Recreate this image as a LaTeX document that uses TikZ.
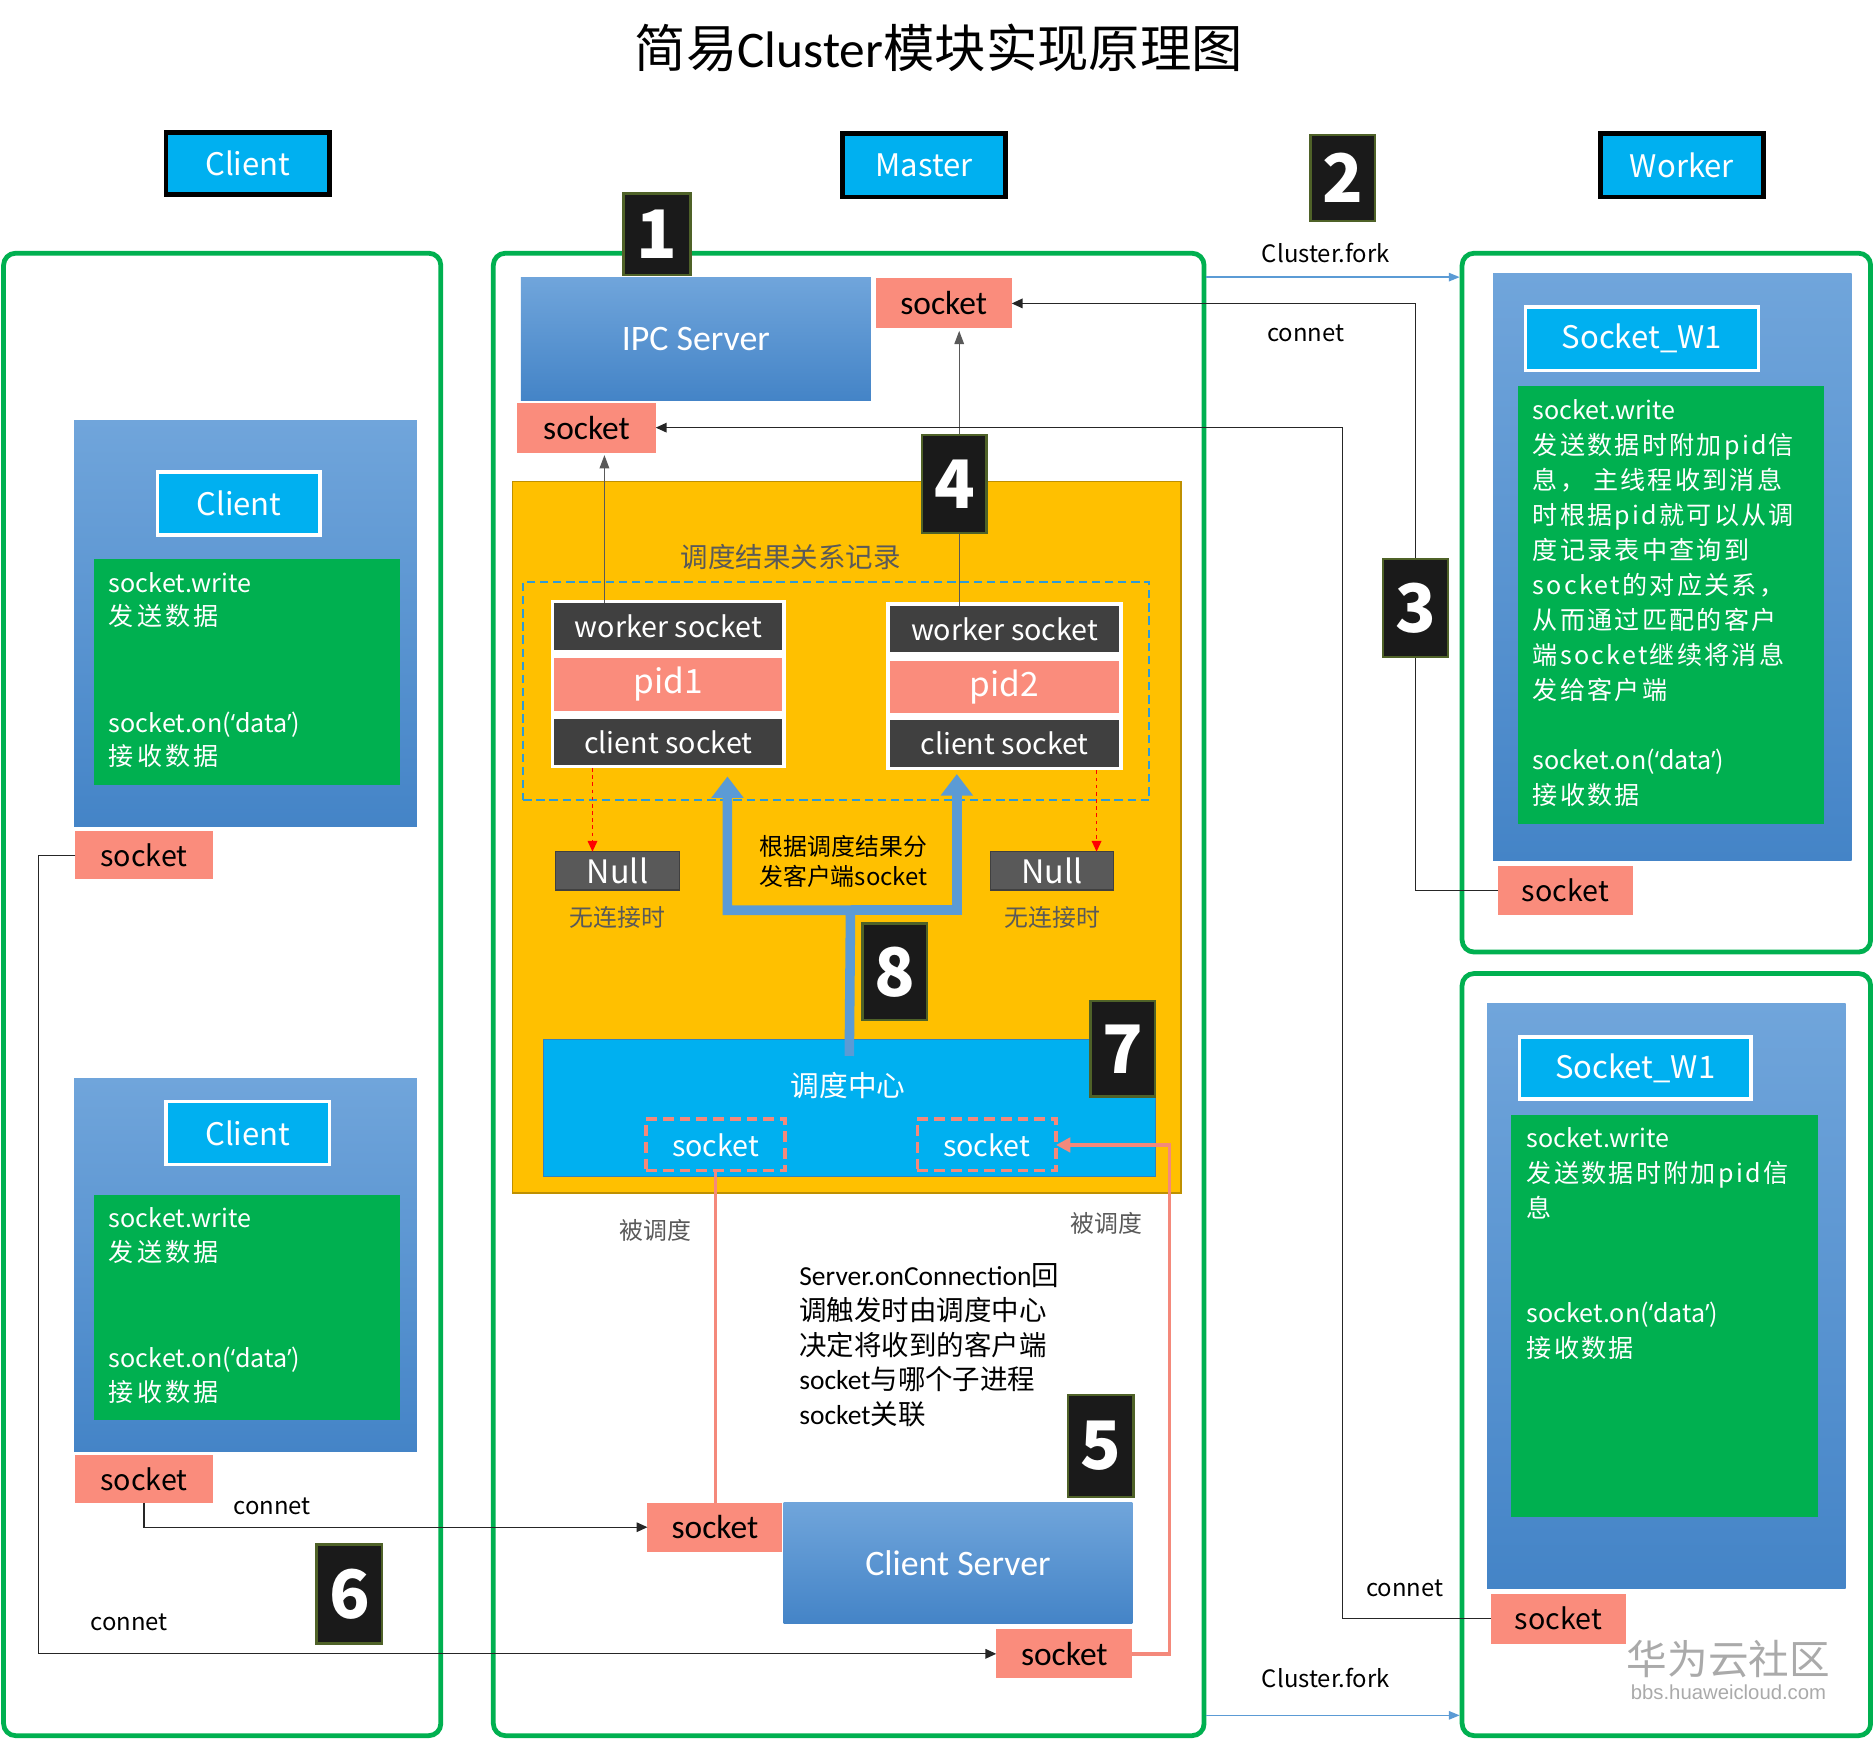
\documentclass[tikz,border=0pt]{standalone}
\usepackage{fontspec}
\setmainfont{Noto Sans CJK SC}
\newfontfamily\latf{Open Sans}
\newfontfamily\carl{Carlito}
\newfontfamily\wmf{Liberation Sans}
\usetikzlibrary{arrows.meta}
\definecolor{salmon}{RGB}{250,140,124}
\definecolor{cyanb}{RGB}{0,176,240}
\definecolor{gbox}{RGB}{0,176,80}
\definecolor{gframe}{RGB}{0,176,80}
\definecolor{btop}{RGB}{112,165,219}
\definecolor{bbot}{RGB}{68,132,199}
\definecolor{badgeb}{RGB}{79,98,40}
\definecolor{badgef}{RGB}{26,26,26}
\definecolor{yel}{RGB}{255,192,0}
\definecolor{yelb}{RGB}{191,144,0}
\definecolor{dgray}{RGB}{64,64,64}
\definecolor{mgray}{RGB}{89,89,89}
\definecolor{arrblue}{RGB}{91,155,213}
\definecolor{dashblue}{RGB}{46,155,214}
\definecolor{sline}{RGB}{244,137,123}
\definecolor{ddblue}{RGB}{0,176,240}
\definecolor{wmgray}{RGB}{170,170,170}
\newcommand\q[1]{{\latf ‘}#1{\latf ’}}
\newcommand\lsc[1]{{\addfontfeature{LetterSpace=13}#1}}
\newcommand\lsw[1]{{\addfontfeature{LetterSpace=9}#1}}
\newcommand\mybox[7]{\node[#1,inner sep=0pt,outer sep=0pt,minimum width={(#5)-(#3)},minimum height={(#6)-(#4)}] (#2) at ({((#3)+(#5))/2},{((#4)+(#6))/2}) {#7};}
\begin{document}
\begin{tikzpicture}[x=1pt,y=-1pt,
  frame/.style={draw=gframe,line width=4pt,rounded corners=10pt},
  hdr/.style={fill=cyanb,draw=black,line width=4pt,text=white,font=\fontsize{26}{30}\selectfont},
  badge/.style={fill=badgef,draw=badgeb,line width=2pt,text=white,font=\fontsize{56}{56}\bfseries\selectfont},
  grad/.style={top color=btop,bottom color=bbot},
  lbl/.style={fill=cyanb,draw=white,line width=3pt,text=white,font=\fontsize{26}{30}\selectfont},
  gbx/.style={fill=gbox},
  gtext/.style={text=white,align=left,inner sep=0pt,font=\fontsize{21}{28}\selectfont},
  sock/.style={fill=salmon,text=black,font=\fontsize{24}{28}\selectfont},
  msock/.style={fill=salmon,text=black,font=\carl\fontsize{28}{30}\selectfont},
  srv/.style={grad,text=white,font=\carl\fontsize{30}{32}\selectfont},
  dk/.style={fill=dgray,text=white,font=\fontsize{24}{28}\selectfont},
  pidb/.style={fill=salmon,text=white,font=\fontsize{28}{30}\selectfont},
  nul/.style={fill=mgray,draw=dgray,line width=1pt,text=white,font=\fontsize{27}{30}\selectfont},
  small/.style={inner sep=0pt,font=\fontsize{20}{24}\selectfont},
  conn/.style={draw=black!85,line width=1pt,-{Triangle[length=9pt,width=8pt]}},
  grayarr/.style={draw=mgray,line width=1pt,-{Triangle[length=11pt,width=8pt]}},
  redarr/.style={draw=red,dashed,line width=1.2pt,-{Triangle[length=9pt,width=8pt]}},
  big/.style={draw=arrblue,line width=8pt,-{Triangle[length=18pt,width=26pt]}},
  sl/.style={draw=sline,line width=3pt},
  forkarr/.style={draw=arrblue,line width=1.2pt,-{Triangle[length=9pt,width=7pt]}},
  dsock/.style={draw=sline,dashed,dash pattern=on 9pt off 5pt,line width=3pt,text=white,font=\fontsize{24}{28}\selectfont}
]
\useasboundingbox (0,0) rectangle (1568,1457);
\node[font=\fontsize{43}{47}\selectfont] (title) at (786,40) {简易{\carl Cluster}模块实现原理图};

% headers
\mybox{hdr}{hc}{139}{111}{276}{163}{Client}
\mybox{hdr}{hm}{705}{112}{842}{165}{Master}
\mybox{hdr}{hw}{1340}{112}{1476}{165}{Worker}

% frames
\mybox{frame}{cf}{3}{212}{369}{1453}{}
\mybox{frame}{mf}{413}{212}{1008}{1453}{}
\mybox{frame}{wf1}{1224}{212}{1566}{797}{}
\mybox{frame}{wf2}{1224}{815}{1566}{1453}{}

% client column
\mybox{grad}{cb1}{62}{352}{349}{692}{}
\mybox{lbl}{cl1}{132}{395}{268}{448}{Client}
\mybox{gbx}{cg1}{79}{468}{335}{657}{}
\node[gtext,anchor=base west] (ct1a) at (91,524) {socket.write\\\lsc{发送数据}};
\node[gtext,anchor=base west] (ct1b) at (91,641) {socket.on(\q{data})\\\lsc{接收数据}};
\mybox{sock}{cls1}{63}{696}{178}{736}{socket}

\mybox{grad}{cb2}{62}{903}{349}{1215}{}
\mybox{lbl}{cl2}{139}{922}{276}{975}{Client}
\mybox{gbx}{cg2}{79}{1000}{335}{1189}{}
\node[gtext,anchor=base west] (ct2a) at (91,1056) {socket.write\\\lsc{发送数据}};
\node[gtext,anchor=base west] (ct2b) at (91,1173) {socket.on(\q{data})\\\lsc{接收数据}};
\mybox{sock}{cls2}{63}{1218}{178}{1258}{socket}

% master
\mybox{srv}{ipc}{436}{232}{729}{335}{IPC Server}
\mybox{msock}{ms1}{733}{233}{847}{275}{socket}
\mybox{msock}{ms0}{433}{337}{549}{379}{socket}
\mybox{fill=yel,draw=yelb,line width=1.5pt}{yb}{429}{403}{989}{999}{}
\node[small,text=mgray,font=\fontsize{23}{26}\selectfont] (rec) at (662,466) {调度结果关系记录};
\mybox{draw=dashblue,dashed,dash pattern=on 7pt off 4pt,line width=1.5pt}{db}{438}{487}{962}{670}{}
\mybox{fill=white}{st1}{461}{502}{658}{643}{}
\mybox{dk}{wk1}{464}{505}{655}{544}{worker socket}
\mybox{pidb}{pd1}{464}{551}{655}{595}{pid1}
\mybox{dk}{cc1}{464}{602}{655}{640}{client socket}
\mybox{fill=white}{st2}{742}{504}{940}{645}{}
\mybox{dk}{wk2}{745}{507}{937}{546}{worker socket}
\mybox{pidb}{pd2}{745}{553}{937}{597}{pid2}
\mybox{dk}{cc2}{745}{603}{937}{642}{client socket}
\mybox{nul}{n1}{465}{713}{569}{745}{Null}
\mybox{nul}{n2}{829}{713}{932}{745}{Null}
\node[small,text=mgray] (nt1) at (517,768) {无连接时};
\node[small,text=mgray] (nt2) at (881,768) {无连接时};
\node[small,align=center,font=\fontsize{20}{25}\selectfont] (dist) at (706,721) {根据调度结果分\\发客户端socket};
\mybox{fill=ddblue,draw={rgb,255:red,50;green,130;blue,190},line width=1pt}{dd}{455}{870}{967}{985}{}
\node[small,text=white,font=\fontsize{24}{28}\selectfont] (ddt) at (710,909) {调度中心};
\mybox{dsock}{dsl}{541}{937}{657}{980}{socket}
\mybox{dsock}{dsr}{768}{937}{884}{980}{socket}
\node[small,text=mgray] (bd1) at (549,1030) {被调度};
\node[small,text=mgray] (bd2) at (926,1024) {被调度};
\node[inner sep=0pt,align=left,anchor=base west,font=\fontsize{23}{29.2}\selectfont] (desc) at (669,1192.8)
  {{\carl Server.onConnection}回\\调触发时由调度中心\\决定将收到的客户端\\{\carl socket}与哪个子进程\\{\carl socket}关联};
\mybox{srv}{csrv}{656}{1258}{948}{1359}{Client Server}
\mybox{msock}{ms2}{542}{1258}{655}{1299}{socket}
\mybox{msock}{ms3}{834}{1364}{948}{1405}{socket}

% worker 1
\mybox{grad}{wb1}{1250}{229}{1550}{720}{}
\mybox{lbl}{wl1}{1277}{257}{1472}{310}{Socket\_W1}
\mybox{gbx}{wg1}{1271}{323}{1527}{690}{}
\node[gtext,anchor=base west,font=\fontsize{21}{29.3}\selectfont] (wt1) at (1283,673.3)
  {socket.write\\\lsw{发送数据时附加pid信}\\\lsw{息， 主线程收到消息}\\\lsw{时根据pid就可以从调}\\\lsw{度记录表中查询到}\\\lsw{socket的对应关系，}\\\lsw{从而通过匹配的客户}\\\lsw{端socket继续将消息}\\\lsw{发给客户端}\\[29.3pt]socket.on(\q{data})\\\lsw{接收数据}};
\mybox{sock}{w1s}{1254}{725}{1367}{766}{socket}

% worker 2
\mybox{grad}{wb2}{1245}{840}{1545}{1330}{}
\mybox{lbl}{wl2}{1272}{868}{1466}{920}{Socket\_W1}
\mybox{gbx}{wg2}{1265}{933}{1522}{1270}{}
\node[gtext,anchor=base west,font=\fontsize{21}{29.3}\selectfont] (wt2a) at (1278,1019.6) {socket.write\\\lsw{发送数据时附加pid信}\\\lsw{息}};
\node[gtext,anchor=base west,font=\fontsize{21}{29.3}\selectfont] (wt2b) at (1278,1136.3) {socket.on(\q{data})\\\lsw{接收数据}};
\mybox{sock}{w2s}{1248}{1334}{1361}{1376}{socket}

% watermark
\node[text=wmgray,font=\fontsize{34}{36}\selectfont] (wm1) at (1447,1389) {华为云社区};
\node[text=wmgray,font=\wmf\fontsize{17}{19}\selectfont] (wm2) at (1447,1417) {bbs.huaweicloud.com};

% connectors
\coordinate (gx1) at (506,0);
\coordinate (gx2) at (803,0);
\draw[grayarr] (wk1.north -| gx1) -- ([yshift=-2pt]ms0.south -| gx1);
\draw[grayarr] (wk2.north -| gx2) -- ([yshift=-2pt]ms1.south -| gx2);
\coordinate (rx1) at (496,0);
\coordinate (rx2) at (918,0);
\draw[redarr] (st1.south -| rx1) -- (n1.north -| rx1);
\draw[redarr] (st2.south -| rx2) -- (n2.north -| rx2);
\coordinate (bj) at (712,762);
\draw[big] ([yshift=-14pt]dd.north) -- (bj) -| ([xshift=49.5pt,yshift=-10pt]cc1.south);
\draw[big] (bj) -| ([xshift=-40pt,yshift=-6pt]cc2.south);
\draw[sl] (dsl.south) -- (dsl.south |- ms2.north);
\draw[sl,-{Triangle[length=12pt,width=12pt]}] (ms3.east) -- ++(31,0) |- (dsr.east);
\draw[conn] (cls1.west) -- ++(-31,0) |- (ms3.west);
\draw[conn] (cls2.south) |- (ms2.west);
\draw[conn] (w1s.west) -- ++(-69,0) |- (ms1.east);
\draw[conn] (w2s.west) -- ++(-124,0) |- (ms0.east);
\coordinate (fy1) at (0,232);
\coordinate (fy2) at (0,1436);
\draw[forkarr] ([xshift=2pt]mf.east |- fy1) -- ([xshift=-2pt]wf1.west |- fy1);
\draw[forkarr] ([xshift=2pt]mf.east |- fy2) -- ([xshift=-2pt]wf2.west |- fy2);
\node[small] (lf1) at (1110,212) {Cluster.fork};
\node[small] (lf2) at (1110,1405) {Cluster.fork};
\node[small] (lc1) at (1093,279) {connet};
\node[small] (lc2) at (1176,1330) {connet};
\node[small] (lc3) at (228,1261) {connet};
\node[small] (lc4) at (108,1358) {connet};

% badges
\mybox{badge}{b1}{522}{162}{578}{230}{1}
\mybox{badge}{b2}{1097}{113}{1151}{185}{2}
\mybox{badge}{b3}{1158}{468}{1212}{550}{3}
\mybox{badge}{b4}{772}{364}{826}{446}{4}
\mybox{badge}{b5}{894}{1168}{949}{1253}{5}
\mybox{badge}{b6}{265}{1293}{320}{1376}{6}
\mybox{badge}{b7}{913}{838}{967}{918}{7}
\mybox{badge}{b8}{722}{773}{776}{854}{8}
\end{tikzpicture}
\end{document}
